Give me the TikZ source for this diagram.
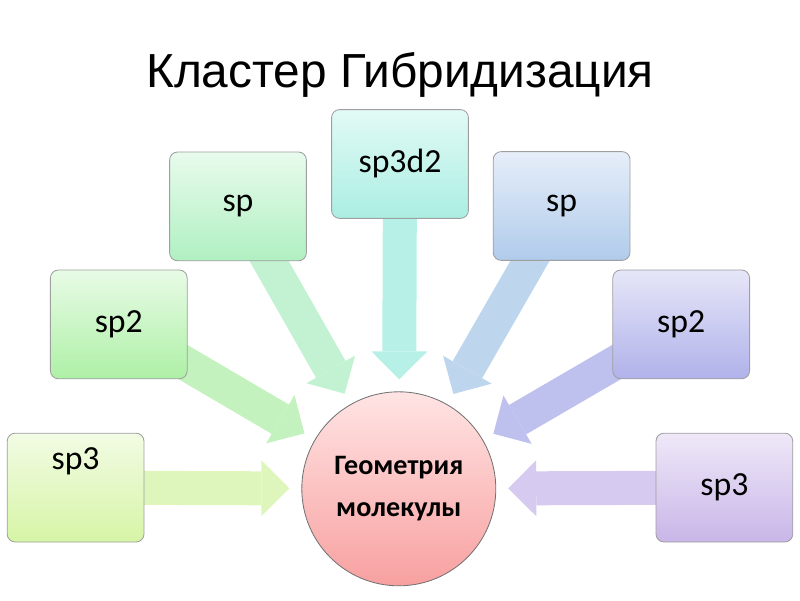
\documentclass[tikz,border=0pt]{standalone}
\usepackage{fontspec}
\setmainfont{Carlito}
\newfontfamily\titlefont{Liberation Sans}
\usetikzlibrary{arrows.meta,backgrounds}
\definecolor{sptrilefttop}{HTML}{F2FBE4}
\definecolor{sptrileftbot}{HTML}{D6F5A6}
\definecolor{sptrileftarr}{HTML}{DEF6BC}
\definecolor{spduoleftop}{HTML}{E8FBE6}
\definecolor{spduoleftbot}{HTML}{AEF0A6}
\definecolor{spduoleftarr}{HTML}{C4F2BE}
\definecolor{splefttop}{HTML}{E8FBEC}
\definecolor{spleftbot}{HTML}{B0F0C2}
\definecolor{spleftarr}{HTML}{C2F2D2}
\definecolor{spddtop}{HTML}{E2FAF6}
\definecolor{spddbot}{HTML}{AAEEE2}
\definecolor{spddarr}{HTML}{B6F0E6}
\definecolor{sprighttop}{HTML}{E6EEF9}
\definecolor{sprightbot}{HTML}{B0CBEB}
\definecolor{sprightarr}{HTML}{BED5EE}
\definecolor{spduorighttop}{HTML}{E6E6F8}
\definecolor{spduorightbot}{HTML}{B0B2EA}
\definecolor{spduorightarr}{HTML}{BEC0EE}
\definecolor{sptririghttop}{HTML}{EFE8F8}
\definecolor{sptrirightbot}{HTML}{C8B6E8}
\definecolor{sptrirightarr}{HTML}{D6CAF0}
\definecolor{geotop}{HTML}{FFE4E4}
\definecolor{geobot}{HTML}{F8A0A0}

\begin{document}
\begin{tikzpicture}[
    hybbox/.style={draw=gray!75, line width=0.6pt, rounded corners=0.2cm,
      minimum width=3.42cm, minimum height=2.72cm,
      font=\fontsize{24}{28}\selectfont},
    blockarrow/.style={line width=0.85cm, shorten >=0.3cm,
      -{Triangle[width=1.4cm, length=0.7cm, line width=0pt]}}]
  \useasboundingbox (0, 0) rectangle (20, 15);
  \node[font=\titlefont\fontsize{34}{40}\selectfont] (title) at (10, 13.12) {Кластер Гибридизация};
  \node[circle, draw=gray!90!black, line width=0.6pt, minimum size=4.85cm,
    top color=geotop, bottom color=geobot, align=center,
    font=\bfseries\fontsize{20}{30}\selectfont] (geo) at (9.97, 2.78) {Геометрия\\молекулы};
  \node[hybbox, text depth=1.43cm, top color=sptrilefttop, bottom color=sptrileftbot] (sp3l) at (1.89, 2.81) {sp3};
  \node[hybbox, top color=spduoleftop, bottom color=spduoleftbot] (sp2l) at (2.97, 6.89) {sp2};
  \node[hybbox, top color=splefttop, bottom color=spleftbot] (spl) at (5.95, 9.84) {sp};
  \node[hybbox, top color=spddtop, bottom color=spddbot] (sp3d2) at (10, 10.9) {sp3d2};
  \node[hybbox, top color=sprighttop, bottom color=sprightbot] (spr) at (14.04, 9.85) {sp};
  \node[hybbox, top color=spduorighttop, bottom color=spduorightbot] (sp2r) at (17.03, 6.89) {sp2};
  \node[hybbox, top color=sptririghttop, bottom color=sptrirightbot] (sp3r) at (18.11, 2.81) {sp3};
  \begin{pgfonlayer}{background}
    \foreach \src/\col in {sp3l/sptrileftarr, sp2l/spduoleftarr, spl/spleftarr,
        sp3d2/spddarr, spr/sprightarr, sp2r/spduorightarr, sp3r/sptrirightarr}
      \draw[blockarrow, draw=\col] (\src.center) -- (geo);
  \end{pgfonlayer}
\end{tikzpicture}
\end{document}
